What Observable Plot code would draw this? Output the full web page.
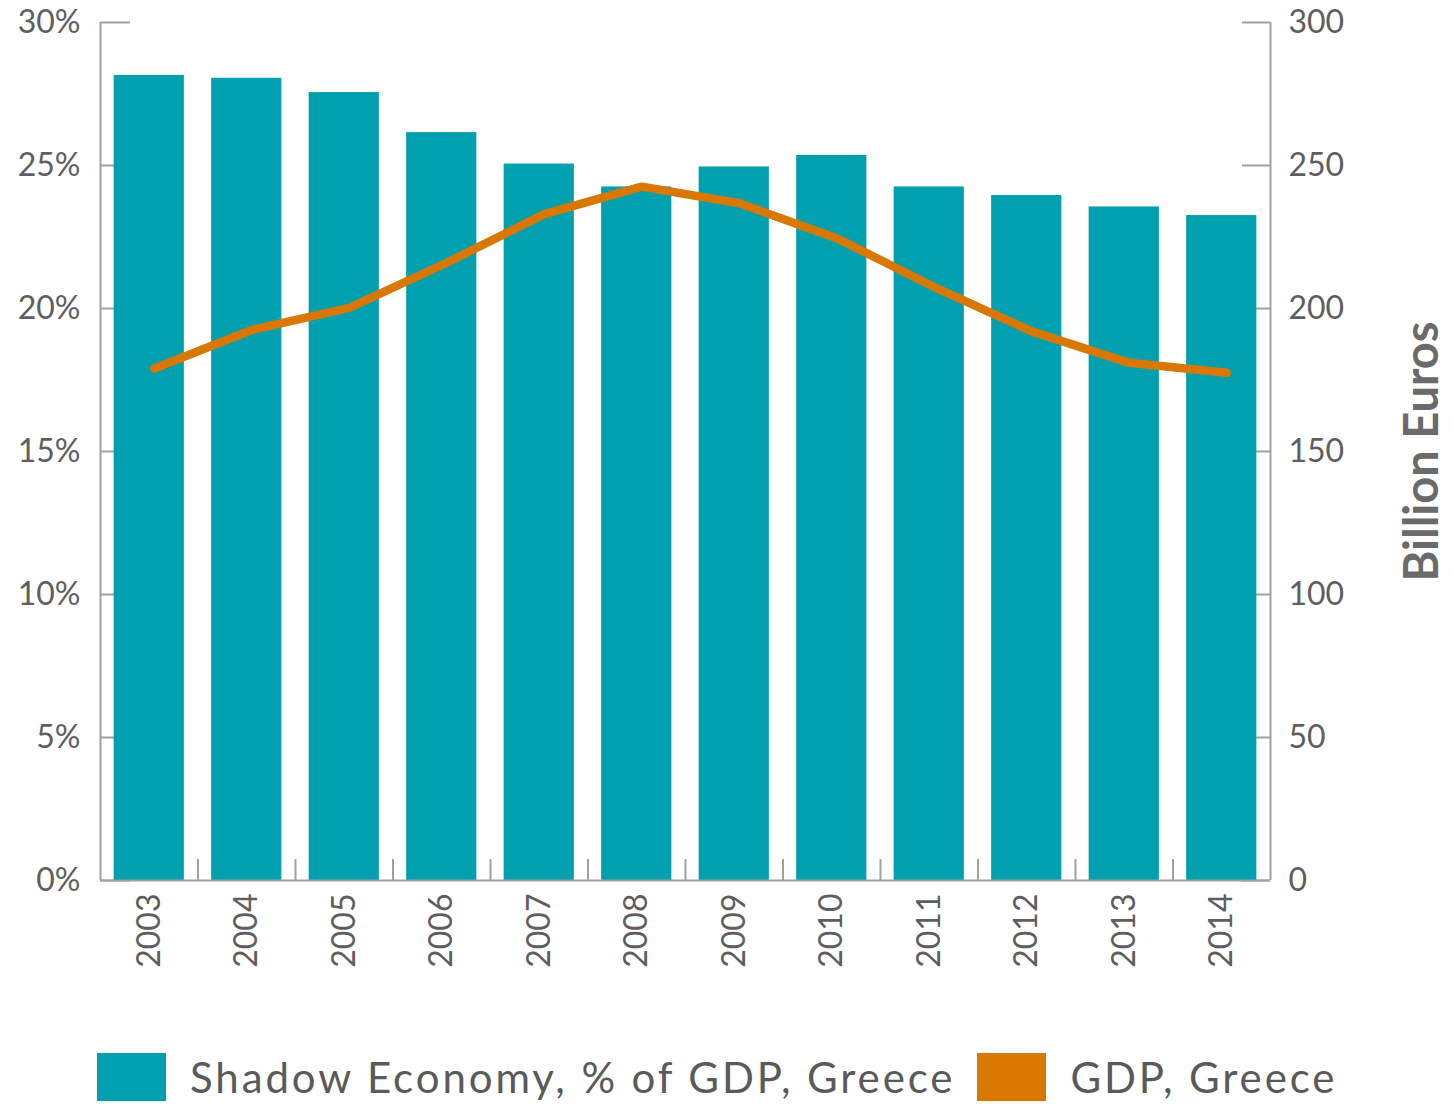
<!DOCTYPE html>
<html>
<head>
<meta charset="utf-8">
<script src="https://cdn.jsdelivr.net/npm/d3@7"></script>
<script src="https://cdn.jsdelivr.net/npm/@observablehq/plot@0.6"></script>
<style>
  html, body { margin: 0; padding: 0; background: #fff; }
  #chart svg { display: block; }
  .legend { display: flex; align-items: center; height: 50px; margin-top: 10px; font-family: Lato, "Noto Sans", sans-serif; color: #5a5a5a; font-size: 42px; letter-spacing: 2.9px; }
  .sw { width: 69px; height: 48px; display: inline-block; }
</style>
</head>
<body>
<div id="chart"></div>
<div class="legend">
  <span class="sw" style="background:#00a0af;margin-left:97px"></span>
  <span style="margin-left:24px">Shadow Economy, % of GDP, Greece</span>
  <span class="sw" style="background:#d97800;margin-left:22px"></span>
  <span style="margin-left:24px">GDP, Greece</span>
</div>
<script>
const years = ["2003","2004","2005","2006","2007","2008","2009","2010","2011","2012","2013","2014"];
const shadowPct = [28.15, 28.05, 27.55, 26.15, 25.05, 24.25, 24.95, 25.35, 24.25, 23.95, 23.55, 23.25];
const gdpBillion = [179, 192.5, 200.2, 216, 233, 242.6, 236.8, 224.6, 207.5, 192, 181, 177.5];
const leftTicks = [0, 5, 10, 15, 20, 25, 30];
const rightTicks = [0, 50, 100, 150, 200, 250, 300];

const data = years.map((y, i) => ({year: y, shadow: shadowPct[i], gdp: gdpBillion[i]}));

const W = 1453, H = 1042;
const mL = 100, mR = 183, mT = 22, mB = 162;
const step = (W - mL - mR) / years.length;
const axisColor = "#a0a0a0";
const textColor = "#5e5e5e";
const font = "Lato, 'Noto Sans', sans-serif";

const chart = Plot.plot({
  width: W,
  height: H,
  marginLeft: mL,
  marginRight: mR,
  marginTop: mT,
  marginBottom: mB,
  style: {fontFamily: font, background: "#fff"},
  x: {type: "band", domain: years, paddingInner: 0.28, paddingOuter: 0.14, round: false},
  y: {domain: [0, 30]},
  marks: [
    // inward ticks
    Plot.ruleY(leftTicks, {y: d => d, insetRight: (W - mL - mR) - 30, stroke: axisColor, strokeWidth: 2}),
    Plot.ruleY(rightTicks, {y: d => d / 10, insetLeft: (W - mL - mR) - 28, stroke: axisColor, strokeWidth: 2}),
    Plot.ruleX(years.slice(1), {x: d => d, dx: -step / 2, insetTop: (H - mT - mB) - 21, stroke: axisColor, strokeWidth: 2}),
    // bars
    Plot.barY(data, {x: "year", y: "shadow", fill: "#00a0af"}),
    // axis lines
    Plot.ruleX([years[0]], {x: d => d, dx: -step / 2, stroke: axisColor, strokeWidth: 2}),
    Plot.ruleX([years[years.length - 1]], {x: d => d, dx: step / 2, stroke: axisColor, strokeWidth: 2}),
    Plot.ruleY([0], {stroke: axisColor, strokeWidth: 2}),
    // GDP line (right axis, 300 bn = 30%)
    Plot.line(data, {x: "year", y: d => d.gdp / 10, stroke: "#d97800", strokeWidth: 8.5, strokeLinecap: "round", strokeLinejoin: "round", dx: 5}),
    // axes
    Plot.axisY(leftTicks, {anchor: "left", tickSize: 0, tickPadding: 20, tickFormat: d => d + "%", fontSize: 32, color: textColor, label: null}),
    Plot.axisY(leftTicks, {anchor: "right", tickSize: 0, tickPadding: 18, tickFormat: d => String(d * 10), fontSize: 32, color: textColor, label: null}),
    Plot.axisX({tickSize: 0, tickPadding: 13, tickRotate: -90, fontSize: 32, color: textColor, label: null}),
    Plot.text(["Billion Euros"], {text: d => d, frameAnchor: "right", textAnchor: "middle", rotate: -90, dx: 152, fontSize: 47, fontWeight: "bold", fill: "#6a6a6a"})
  ]
});
document.getElementById("chart").appendChild(chart);
</script>
</body>
</html>
